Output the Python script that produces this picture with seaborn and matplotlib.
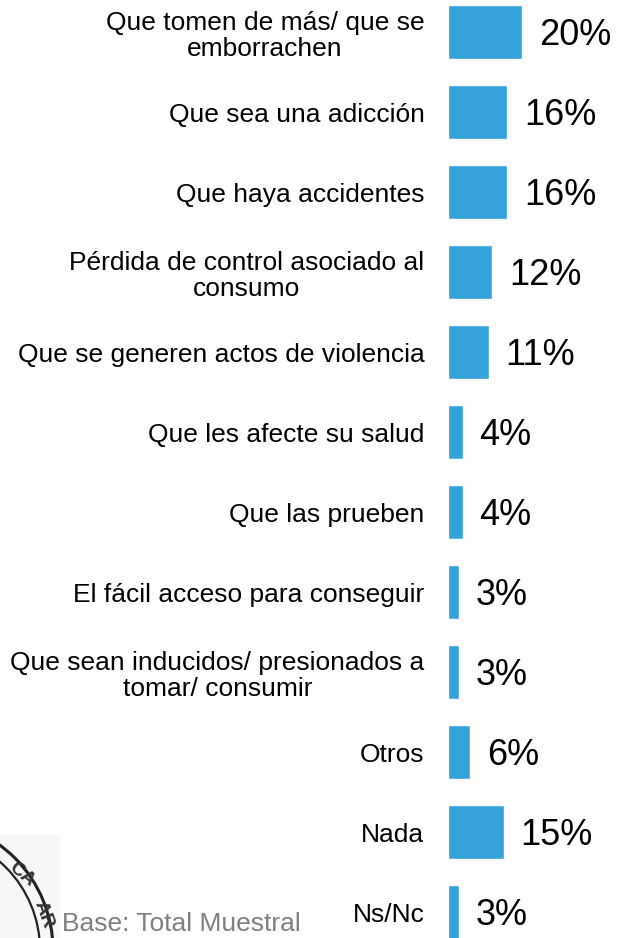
import matplotlib
matplotlib.use("Agg")
import matplotlib.pyplot as plt
import seaborn as sns
import pandas as pd
from matplotlib.patches import Circle, Rectangle

categories = [
    "Que tomen de más/ que se\nemborrachen",
    "Que sea una adicción",
    "Que haya accidentes",
    "Pérdida de control asociado al\nconsumo",
    "Que se generen actos de violencia",
    "Que les afecte su salud",
    "Que las prueben",
    "El fácil acceso para conseguir",
    "Que sean inducidos/ presionados a\ntomar/ consumir",
    "Otros",
    "Nada",
    "Ns/Nc",
]
values = [20, 16, 16, 12, 11, 4, 4, 3, 3, 6, 15, 3]
value_labels = ["20%", "16%", "16%", "12%", "11%", "4%", "4%", "3%", "3%", "6%", "15%", "3%"]

df = pd.DataFrame({"cat": categories, "val": values})

sns.set_style("white")
plt.rcParams["font.family"] = ["Liberation Sans", "DejaVu Sans"]

W, H = 619, 938
fig = plt.figure(figsize=(W / 100, H / 100), dpi=100)
ax_left = 448 / W
ax = fig.add_axes([ax_left, -14 / H, 1 - ax_left, 960 / H])

sns.barplot(data=df, y="cat", x="val", orient="h", color="#34A3DC",
            width=0.675, ax=ax, saturation=1)
ax.set_xlim(0, 171 / 3.7)
ax.set_ylim(11.5, -0.5)
ax.set_xlabel("")
ax.set_ylabel("")
ax.set_xticks([])
for s in ax.spines.values():
    s.set_visible(False)

ax.tick_params(axis="y", length=0, pad=17, colors="black")
ax.set_yticks(range(len(categories)))
ax.set_yticklabels(categories, fontsize=19, ha="right", multialignment="center",
                   linespacing=1.15, color="black")

texts = ax.bar_label(ax.containers[0], labels=value_labels, padding=12,
                     fontsize=26, color="black")
for t in texts:
    t.xyann = (12, -2.4)

# Seal watermark (partially cropped)
fig.patches.append(Rectangle((0, 0), 60 / W, 103 / H, transform=fig.transFigure,
                             facecolor="#f7f7f7", edgecolor="none", zorder=0))
for r, lw in [(130, 2.2), (117, 1.6)]:
    fig.patches.append(Circle((-77, H - 950), r, transform=None,
                              fill=False, edgecolor="#222222", linewidth=lw,
                              zorder=1))
fig.text(22 / W, (H - 875) / H, "CA", fontsize=14, rotation=-40,
         color="#333333", ha="center", va="center", fontweight="bold")
fig.text(44 / W, (H - 915) / H, "AR", fontsize=14, rotation=-70,
         color="#333333", ha="center", va="center", fontweight="bold")

fig.text(62 / W, 2 / H, "Base: Total Muestral", fontsize=19, color="#7f7f7f",
         ha="left", va="bottom")

fig.savefig("out.png", dpi=100, facecolor="white")
